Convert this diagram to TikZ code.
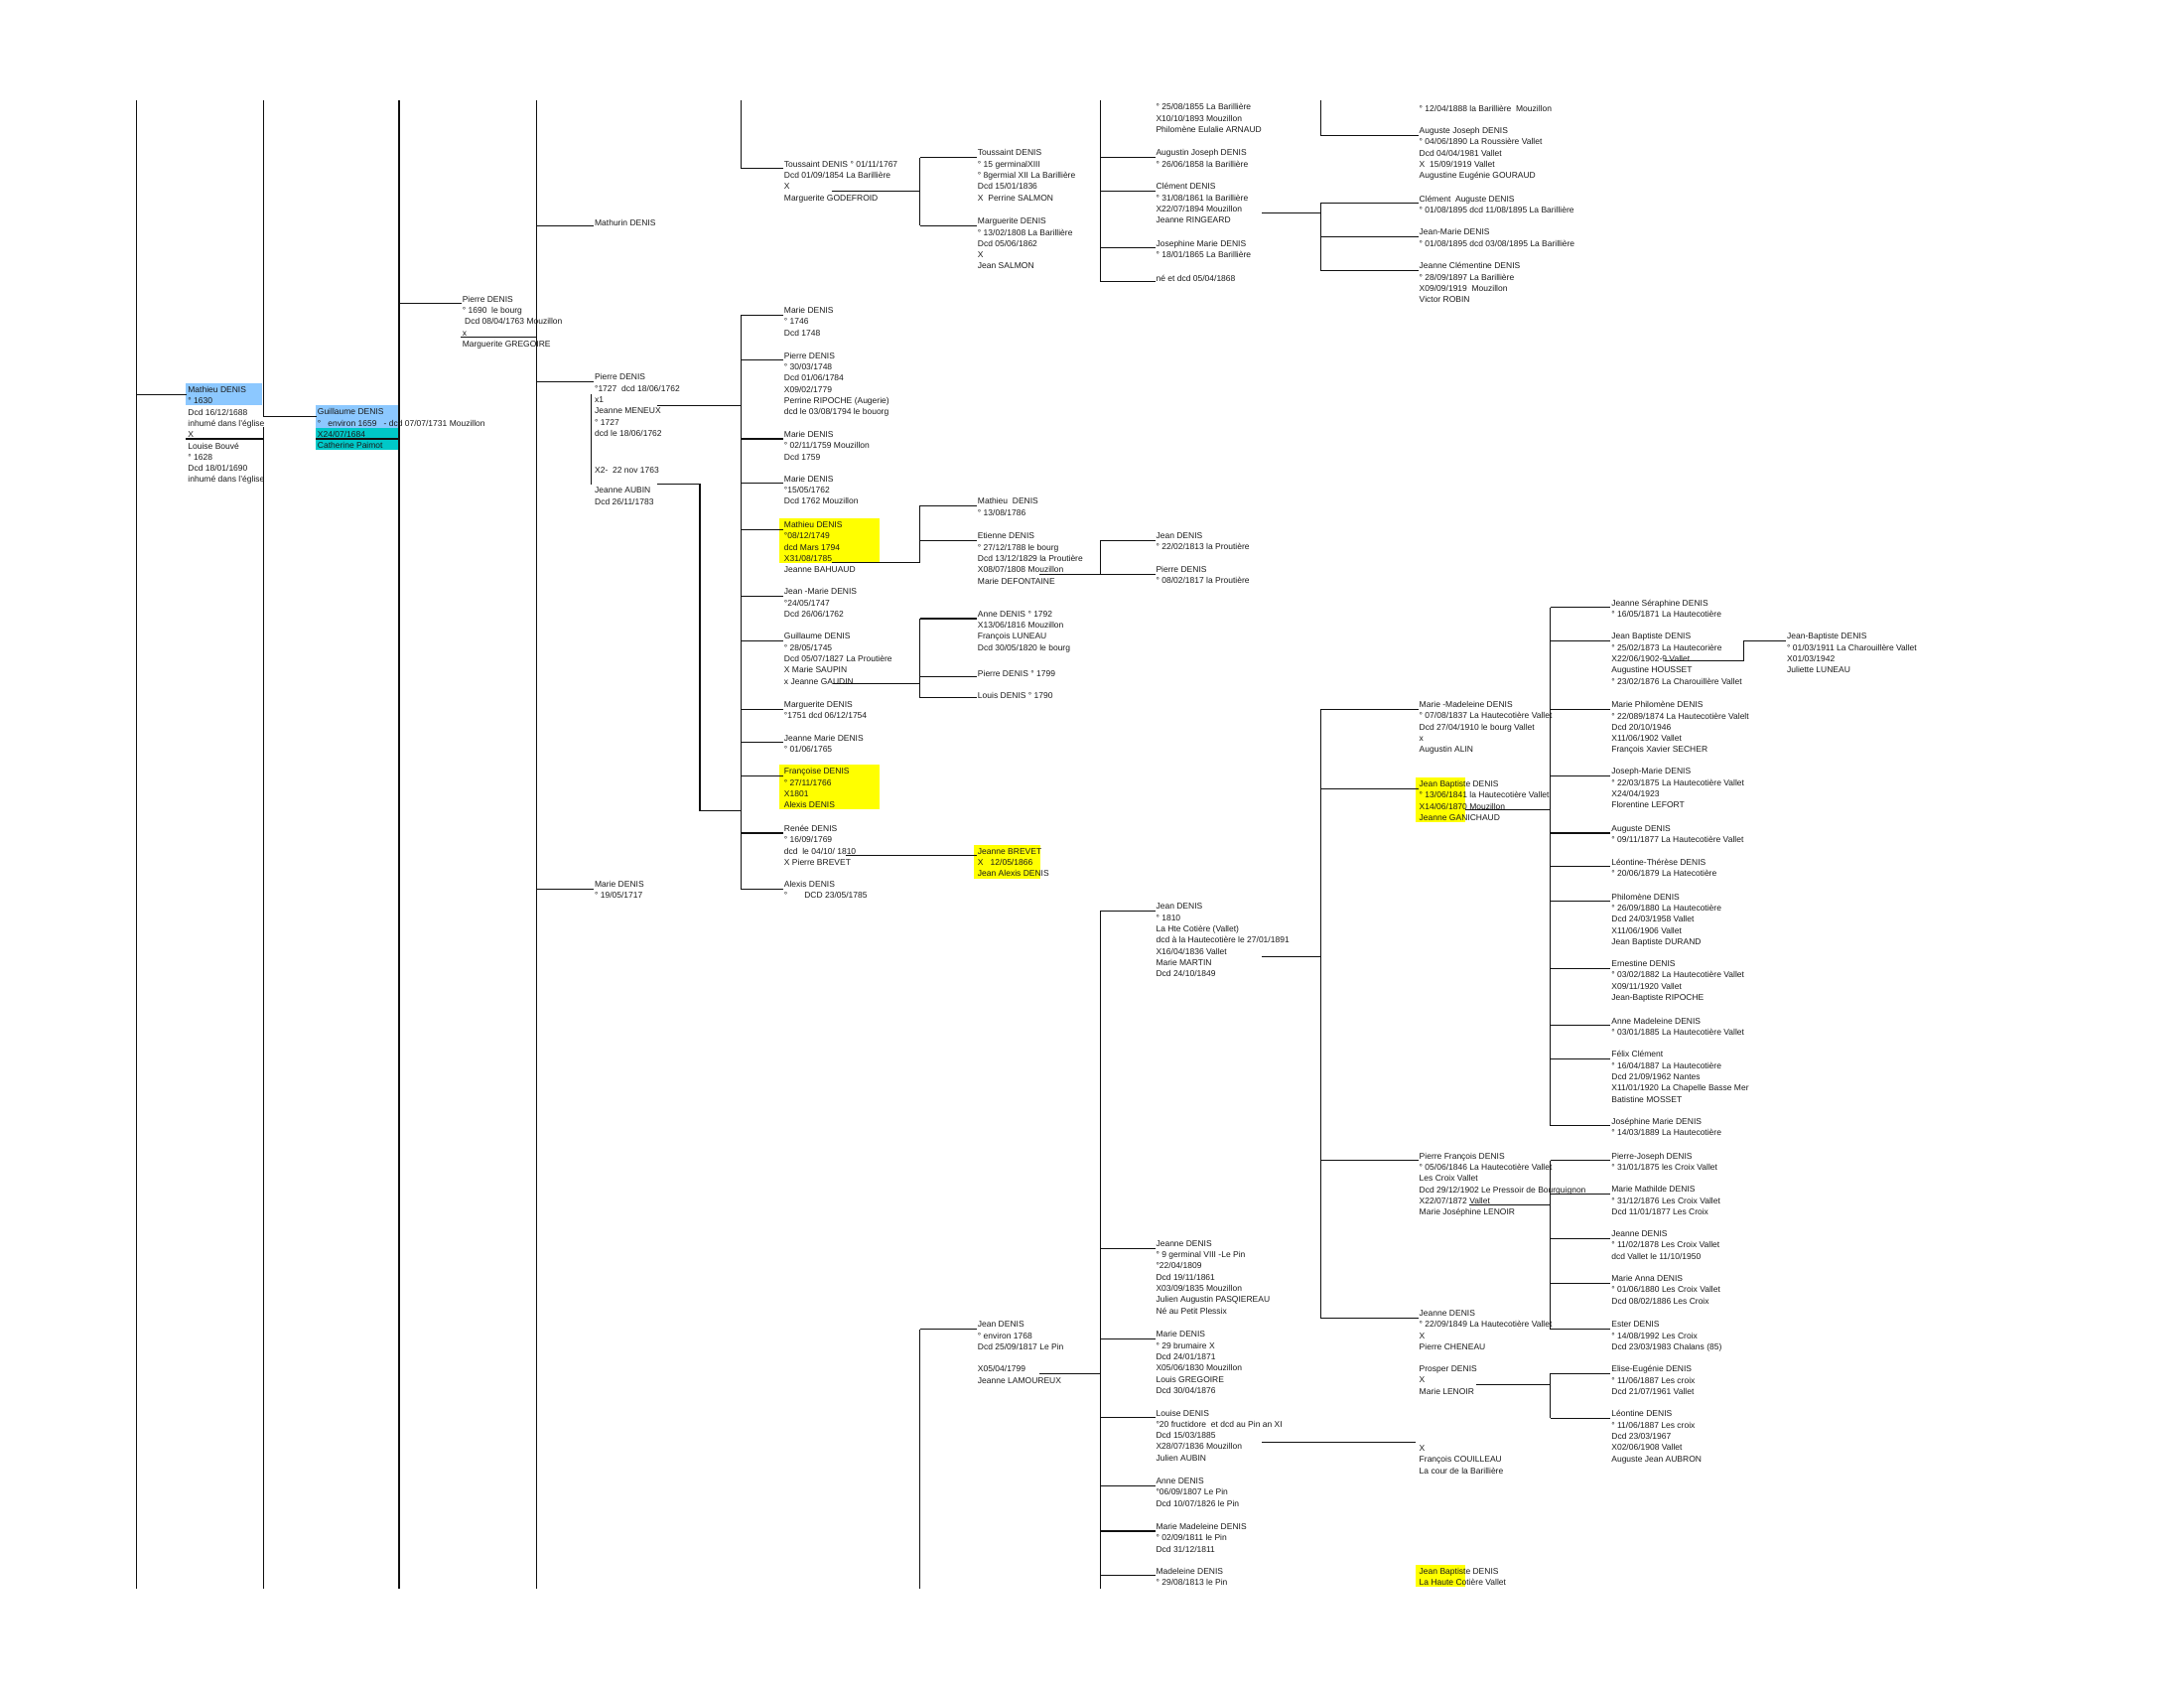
\documentclass[tikz,border=0pt]{standalone}
\usepackage{fontspec}
\setmainfont{Liberation Sans}
\usepackage{xcolor}
\usetikzlibrary{calc}
\definecolor{ink}{HTML}{1A1A1A}
\definecolor{rule}{HTML}{101010}
\definecolor{skyfill}{HTML}{8CC8FF}
\definecolor{tealfill}{HTML}{00C8C8}
\definecolor{markfill}{HTML}{FFFF00}
\newcommand\chartfont{\fontsize{8.5}{11.3}\selectfont}
% stub from a column line to the first row of a person
\newcommand\kid[2]{%
  \coordinate (#2-s) at ([yshift=-7.7pt]#2.north west);
  \draw[link] (#2-s -| #1) -- ([xshift=-1pt]#2-s);}

\begin{document}
\begin{tikzpicture}[
  x=1.4031pt, y=-1.4031pt,
  font=\chartfont,
  link/.style={line width=1.1pt,draw=rule},
  person/.style={anchor=north west,inner sep=0pt,outer sep=0pt,yshift=2.1pt,
                 align=left,text=ink,execute at begin node=\strut}
]
\useasboundingbox (0,0) rectangle (1568,1212);

% Column lines
\coordinate (top) at (0,72);
\coordinate (bot) at (0,1140);
\coordinate (cA) at (98,0);
\coordinate (cB) at (189,0);
\coordinate (cC) at (286.5,0);
\coordinate (cD) at (385,0);
\coordinate (cE2) at (502.5,0);
\coordinate (cE) at (532,0);
\coordinate (cF) at (660.5,0);
\coordinate (cG) at (790,0);
\coordinate (cH) at (948,0);
\coordinate (cI) at (1113,0);
\coordinate (cJ) at (1252,0);

% Highlighted cells
\fill[skyfill] (133.5,275) rectangle (188,291);
\fill[skyfill] (226.5,291) rectangle (286.5,307);
\fill[tealfill] (226.5,307) rectangle (286.5,323);
\fill[markfill] (559.5,372) rectangle (631.5,404);
\fill[markfill] (559.5,549) rectangle (631.5,581);
\fill[markfill] (699,606.5) rectangle (747,630.5);
\fill[markfill] (1016,558) rectangle (1052,590);
\fill[markfill] (1016,1123) rectangle (1052,1139);

% Generation 1
\node[person] (mathieu) at (135,279)
  {Mathieu DENIS\\° 1630\\Dcd 16/12/1688\\inhumé dans l'église\\X\\Louise Bouvé\\° 1628\\Dcd 18/01/1690\\inhumé dans l'église};
\draw[link] (cA |- top) -- (cA |- bot);
\kid{cA}{mathieu}
\coordinate (mathieu-x) at (133.5,315);
\draw[link] (mathieu-x) -- (mathieu-x -| cB);

% Generation 2
\node[person] (guil) at (228,295)
  {Guillaume DENIS\\°\ \ \ environ 1659\ \ \ - dcd 07/07/1731 Mouzillon\\X24/07/1684\\Catherine Paimot};
\kid{cB}{guil}
\draw[link] (cB |- top) -- (cB |- guil-s);
\coordinate (cB-low) at (189,306.5);
\draw[link] (cB-low) -- (cB |- bot);
\coordinate (guil-x) at (226.5,315);
\draw[link] (guil-x) -- (guil-x -| cC);

% Generation 3
\draw[link] (cC |- top) -- (cC |- bot);
\node[person] (pierre) at (332,214)
  {Pierre DENIS\\° 1690\ \ le bourg\\\ Dcd 08/04/1763 Mouzillon\\x\\Marguerite GREGOIRE};
\kid{cC}{pierre}
\coordinate (pierre-x) at (331,242);
\draw[link] (pierre-x) -- (pierre-x -| cD);

% Generation 4
\draw[link] (cD |- top) -- (cD |- bot);
\node[person] (mathurin) at (427,158) {Mathurin DENIS};
\node[person] (pierre2) at (427,270)
  {Pierre DENIS\\°1727\ \ dcd 18/06/1762\\x1\\Jeanne MENEUX\\° 1727\\dcd le 18/06/1762};
\node[person] (second) at (427,335.5) {X2-\ \ 22 nov 1763};
\node[person] (aubin) at (427,351.5) {Jeanne AUBIN\\Dcd 26/11/1783};
\node[person] (marie0) at (427,634) {Marie DENIS\\° 19/05/1717};
\kid{cD}{mathurin}
\kid{cD}{pierre2}
\kid{cD}{marie0}
\coordinate (wed1) at (424.5,283);
\coordinate (wed2) at (424.5,347.5);
\draw[link] (wed1) -- (wed2);
\coordinate (meneux-x) at (471.5,291);
\draw[link] (meneux-x) -- (meneux-x -| cE);
\coordinate (aubin-x) at (471.5,347.5);
\coordinate (aubin-k) at (502.5,582);
\draw[link] (aubin-x) -| (aubin-k) -- (aubin-k -| cE);

% Generation 5
\node[person] (tous) at (563,117)
  {Toussaint DENIS ° 01/11/1767\\Dcd 01/09/1854 La Barillière\\X\\Marguerite GODEFROID};
\kid{cE}{tous}
\draw[link] (cE |- top) -- (cE |- tous-s);
\coordinate (tous-x) at (597,137);
\draw[link] (tous-x) -- (tous-x -| cF);

\node[person] (m1) at (563,222) {Marie DENIS\\° 1746\\Dcd 1748};
\node[person] (p1) at (563,254.5)
  {Pierre DENIS\\° 30/03/1748\\Dcd 01/06/1784\\X09/02/1779\\Perrine RIPOCHE (Augerie)\\dcd le 03/08/1794 le bouorg};
\node[person] (m2) at (563,311) {Marie DENIS\\° 02/11/1759 Mouzillon\\Dcd 1759};
\node[person] (m3) at (563,343) {Marie DENIS\\°15/05/1762\\Dcd 1762 Mouzillon};
\node[person] (mat) at (563,376)
  {Mathieu DENIS\\°08/12/1749\\dcd Mars\ 1794\\X31/08/1785\\Jeanne BAHUAUD};
\node[person] (jm) at (563,424) {Jean -Marie DENIS\\°24/05/1747\\Dcd 26/06/1762};
\node[person] (gu) at (563,456)
  {Guillaume DENIS\\° 28/05/1745\\Dcd 05/07/1827 La Proutière\\X Marie SAUPIN\\x Jeanne GAUDIN};
\node[person] (mg) at (563,505) {Marguerite DENIS\\°1751 dcd 06/12/1754};
\node[person] (jma) at (563,529) {Jeanne Marie DENIS\\° 01/06/1765};
\node[person] (fr) at (563,553) {Françoise DENIS\\° 27/11/1766\\X1801\\Alexis DENIS};
\node[person] (re) at (563,594)
  {Renée DENIS\\° 16/09/1769\\dcd\ \ le 04/10/ 1810\\X Pierre BREVET};
\node[person] (al) at (563,634) {Alexis DENIS\\°\hspace{17pt}DCD 23/05/1785};
\foreach \p in {m1,p1,m2,m3,mat,jm,gu,mg,jma,fr,re,al}
  {\kid{cE}{\p}}
\draw[link] (cE |- m1-s) -- (cE |- al-s);
\coordinate (mat-x) at (597,404);
\draw[link] (mat-x) -- (mat-x -| cF);
\coordinate (gu-x) at (598,491);
\draw[link] (gu-x) -- (gu-x -| cF);

% Generation 6
\node[person] (tj) at (702,109)
  {Toussaint DENIS\\° 15 germinalXIII\\° 8germial XII La Barillière\\Dcd 15/01/1836\\X\ \ Perrine SALMON};
\node[person] (mgd) at (702,158)
  {Marguerite DENIS\\° 13/02/1808 La Barillière\\Dcd 05/06/1862\\X\\Jean SALMON};
\kid{cF}{tj}
\kid{cF}{mgd}
\draw[link] (cF |- tj-s) -- (cF |- mgd-s);

\node[person] (mj) at (702,359) {Mathieu\ \ DENIS\\° 13/08/1786};
\node[person] (et) at (702,384)
  {Etienne DENIS\\° 27/12/1788 le bourg\\Dcd 13/12/1829 la Proutière\\X08/07/1808 Mouzillon\\Marie DEFONTAINE};
\kid{cF}{mj}
\kid{cF}{et}
\draw[link] (cF |- mj-s) -- (cF |- mat-x);

\node[person] (an) at (702,440)
  {Anne DENIS ° 1792\\X13/06/1816 Mouzillon\\François LUNEAU\\Dcd 30/05/1820 le bourg};
\node[person] (pp) at (702,481.5) {Pierre DENIS ° 1799};
\node[person] (lo) at (702,497) {Louis DENIS ° 1790};
\kid{cF}{an}
\kid{cF}{pp}
\kid{cF}{lo}
\draw[link] (cF |- an-s) -- (cF |- lo-s);

\node[person] (br) at (702,610.5) {Jeanne BREVET\\X\ \ \ 12/05/1866\\Jean Alexis DENIS};
\coordinate (re-x) at (607,614);
\draw[link] (re-x) -- ([xshift=-1pt]re-x -| br.west);

\node[person] (jn) at (702,950) {Jean DENIS\\° environ 1768\\Dcd 25/09/1817 Le Pin};
\node[person] (jnx) at (702,982) {X05/04/1799\\Jeanne LAMOUREUX};
\kid{cF}{jn}
\draw[link] (cF |- jn-s) -- (cF |- bot);
\coordinate (jn-x) at (746,986);
\draw[link] (jn-x) -- (jn-x -| cG);

% Generation 7
\node[person] (tx) at (830,76)
  {° 25/08/1855 La Barillière\\X10/10/1893 Mouzillon\\Philomène Eulalie ARNAUD};
\node[person] (aj) at (830,109) {Augustin Joseph DENIS\\° 26/06/1858 la Barillière};
\node[person] (cl) at (830,133)
  {Clément DENIS\\° 31/08/1861 la Barillière\\X22/07/1894 Mouzillon\\Jeanne RINGEARD};
\node[person] (jo) at (830,174) {Josephine Marie DENIS\\° 18/01/1865 La Barillière};
\node[person] (ne) at (830,198) {né et dcd 05/04/1868};
\foreach \p in {aj,cl,jo,ne}
  {\kid{cG}{\p}}
\draw[link] (cG |- top) -- (cG |- ne-s);
\coordinate (cl-x) at (906,153);
\draw[link] (cl-x) -- (cl-x -| cH);

\node[person] (jd) at (830,384) {Jean DENIS\\° 22/02/1813 la Proutière};
\node[person] (pd) at (830,408) {Pierre DENIS\\° 08/02/1817 la Proutière};
\kid{cG}{jd}
\kid{cG}{pd}
\draw[link] (cG |- jd-s) -- (cG |- pd-s);
\coordinate (et-x) at (746,412);
\draw[link] (et-x) -- (et-x -| cG);

\node[person] (j10) at (830,650)
  {Jean DENIS\\° 1810\\La Hte Cotière (Vallet)\\dcd à la Hautecotière le 27/01/1891\\X16/04/1836 Vallet\\Marie MARTIN\\Dcd 24/10/1849};
\node[person] (je) at (830,892)
  {Jeanne DENIS\\° 9 germinal VIII -Le Pin\\°22/04/1809\\Dcd 19/11/1861\\X03/09/1835 Mouzillon\\Julien Augustin PASQIEREAU\\Né au Petit Plessix};
\node[person] (ma) at (830,957)
  {Marie DENIS\\° 29 brumaire X\\Dcd 24/01/1871\\X05/06/1830 Mouzillon\\Louis GREGOIRE\\Dcd 30/04/1876};
\node[person] (lu) at (830,1013.5)
  {Louise DENIS\\°20 fructidore\ \ et dcd au Pin an XI\\Dcd 15/03/1885\\X28/07/1836 Mouzillon\\Julien AUBIN};
\node[person] (ad) at (830,1062.5) {Anne DENIS\\°06/09/1807 Le Pin\\Dcd 10/07/1826 le Pin};
\node[person] (mm) at (830,1095) {Marie Madeleine DENIS\\° 02/09/1811 le Pin\\Dcd 31/12/1811};
\node[person] (md) at (830,1127) {Madeleine DENIS\\° 29/08/1813 le Pin};
\foreach \p in {j10,je,ma,lu,ad,mm,md}
  {\kid{cG}{\p}}
\draw[link] (cG |- j10-s) -- (cG |- bot);
\coordinate (j10-x) at (906,687);
\draw[link] (j10-x) -- (j10-x -| cH);

% Generation 8
\node[person] (tt) at (1019,76) {° 12/04/1888 la Barillière\ \ Mouzillon};
\node[person] (ag) at (1019,93)
  {Auguste Joseph DENIS\\° 04/06/1890 La Roussière Vallet\\Dcd 04/04/1981 Vallet\\X\ \ 15/09/1919 Vallet\\Augustine Eugénie GOURAUD};
\kid{cH}{ag}
\draw[link] (cH |- top) -- (cH |- ag-s);
\node[person] (ca) at (1019,142) {Clément\ \ Auguste DENIS\\° 01/08/1895 dcd 11/08/1895 La Barillière};
\node[person] (jmr) at (1019,166) {Jean-Marie DENIS\\° 01/08/1895 dcd 03/08/1895 La Barillière};
\node[person] (jc) at (1019,190)
  {Jeanne Clémentine DENIS\\° 28/09/1897 La Barillière\\X09/09/1919\ \ Mouzillon\\Victor ROBIN};
\foreach \p in {ca,jmr,jc}
  {\kid{cH}{\p}}
\draw[link] (cH |- ca-s) -- (cH |- jc-s);

\node[person] (mmd) at (1019,505)
  {Marie -Madeleine DENIS\\° 07/08/1837 La Hautecotière Vallet\\Dcd 27/04/1910 le bourg Vallet\\x\\Augustin ALIN};
\node[person] (jb) at (1019,562)
  {Jean Baptiste DENIS\\° 13/06/1841 la Hautecotière Vallet\\X14/06/1870 Mouzillon\\Jeanne GANICHAUD};
\node[person] (pf) at (1019,829)
  {Pierre François DENIS\\° 05/06/1846 La Hautecotière Vallet\\Les Croix Vallet\\Dcd 29/12/1902 Le Pressoir de Bourguignon\\X22/07/1872 Vallet\\Marie Joséphine LENOIR};
\node[person] (jd2) at (1019,942)
  {Jeanne DENIS\\° 22/09/1849 La Hautecotière Vallet\\X\\Pierre CHENEAU};
\foreach \p in {mmd,jb,pf,jd2}
  {\kid{cH}{\p}}
\draw[link] (cH |- mmd-s) -- (cH |- jd2-s);
\node[person] (pr) at (1019,982) {Prosper DENIS\\X\\Marie LENOIR};
\node[person] (fc) at (1019,1039) {X\\François COUILLEAU\\La cour de la Barillière};
\node[person] (jbb) at (1019,1127) {Jean Baptiste DENIS\\La Haute Cotière Vallet};
\coordinate (lu-x) at (906,1035);
\draw[link] (lu-x) -- ([xshift=-4pt]lu-x -| fc.west);
\coordinate (jb-x) at (1052,581);
\draw[link] (jb-x) -- (jb-x -| cI);
\coordinate (pf-x) at (1055,865);
\draw[link] (pf-x) -- (pf-x -| cI);
\coordinate (pr-x) at (1060,994);
\draw[link] (pr-x) -- (pr-x -| cI);

% Generation 9
\node[person] (js) at (1157,432) {Jeanne Séraphine DENIS\\° 16/05/1871 La Hautecotière};
\node[person] (jb73) at (1157,456)
  {Jean Baptiste DENIS\\° 25/02/1873 La Hautecorière\\X22/06/1902-9 Vallet\\Augustine HOUSSET\\° 23/02/1876 La Charouillère Vallet};
\node[person] (mp) at (1157,505)
  {Marie Philomène DENIS\\° 22/089/1874 La Hautecotière Valelt\\Dcd 20/10/1946\\X11/06/1902 Vallet\\François Xavier SECHER};
\node[person] (jsm) at (1157,553)
  {Joseph-Marie DENIS\\° 22/03/1875 La Hautecotière Vallet\\X24/04/1923\\Florentine LEFORT};
\node[person] (au) at (1157,594) {Auguste DENIS\\° 09/11/1877 La Hautecotière Vallet};
\node[person] (lt) at (1157,618) {Léontine-Thérèse DENIS\\° 20/06/1879 La Hatecotière};
\node[person] (ph) at (1157,643)
  {Philomène DENIS\\° 26/09/1880 La Hautecotière\\Dcd 24/03/1958 Vallet\\X11/06/1906 Vallet\\Jean Baptiste DURAND};
\node[person] (er) at (1157,691)
  {Ernestine DENIS\\° 03/02/1882 La Hautecotière Vallet\\X09/11/1920 Vallet\\Jean-Baptiste RIPOCHE};
\node[person] (amd) at (1157,732) {Anne Madeleine DENIS\\° 03/01/1885 La Hautecotière Vallet};
\node[person] (fx) at (1157,756)
  {Félix Clément\\° 16/04/1887 La Hautecotière\\Dcd 21/09/1962 Nantes\\X11/01/1920 La Chapelle Basse Mer\\Batistine MOSSET};
\node[person] (jos) at (1157,804) {Joséphine Marie DENIS\\° 14/03/1889 La Hautecotière};
\foreach \p in {js,jb73,mp,jsm,au,lt,ph,er,amd,fx,jos}
  {\kid{cI}{\p}}
\draw[link] (cI |- js-s) -- (cI |- jos-s);

\node[person] (pj) at (1157,829) {Pierre-Joseph DENIS\\° 31/01/1875 les Croix Vallet};
\node[person] (mt) at (1157,853)
  {Marie Mathilde DENIS\\° 31/12/1876 Les Croix Vallet\\Dcd 11/01/1877 Les Croix};
\node[person] (jn2) at (1157,885)
  {Jeanne DENIS\\° 11/02/1878 Les Croix Vallet\\dcd Vallet le 11/10/1950};
\node[person] (mna) at (1157,917)
  {Marie Anna DENIS\\° 01/06/1880 Les Croix Vallet\\Dcd 08/02/1886 Les Croix};
\node[person] (es) at (1157,950)
  {Ester DENIS\\° 14/08/1992 Les Croix\\Dcd 23/03/1983 Chalans (85)};
\foreach \p in {pj,mt,jn2,mna,es}
  {\kid{cI}{\p}}
\draw[link] (cI |- pj-s) -- (cI |- es-s);

\node[person] (ee) at (1157,982)
  {Elise-Eugénie DENIS\\° 11/06/1887 Les croix\\Dcd 21/07/1961 Vallet};
\node[person] (le) at (1157,1014)
  {Léontine DENIS\\° 11/06/1887 Les croix\\Dcd 23/03/1967\\X02/06/1908 Vallet\\Auguste Jean AUBRON};
\kid{cI}{ee}
\kid{cI}{le}
\draw[link] (cI |- ee-s) -- (cI |- le-s);

% Generation 10
\node[person] (jbf) at (1283,456)
  {Jean-Baptiste DENIS\\° 01/03/1911 La Charouillère Vallet\\X01/03/1942\\Juliette LUNEAU};
\coordinate (jbf-s) at ([yshift=-7.7pt]jbf.north west);
\coordinate (jb73-x) at (1195,474);
\draw[link] (jb73-x) -- (jb73-x -| cJ) -- (cJ |- jbf-s) -- ([xshift=-1pt]jbf-s);

\end{tikzpicture}
\end{document}
